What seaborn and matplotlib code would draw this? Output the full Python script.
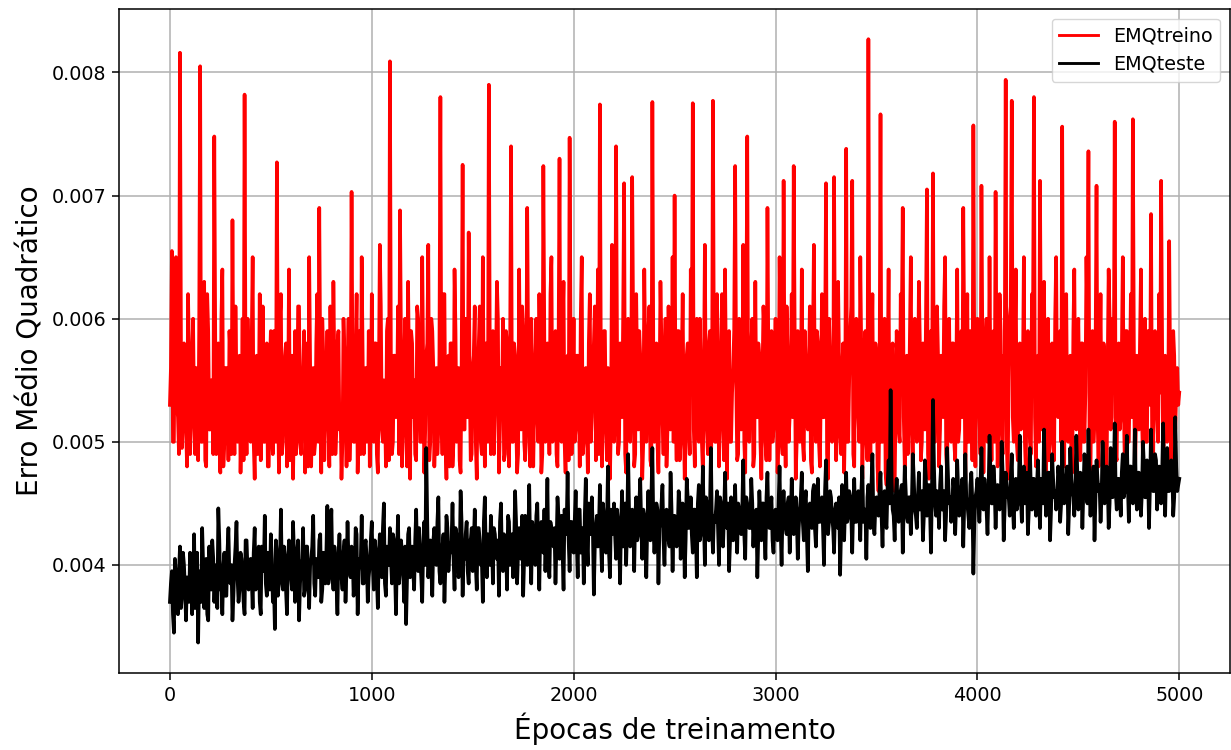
import numpy as np
import pandas as pd
import matplotlib
matplotlib.use("Agg")
import matplotlib.pyplot as plt
import seaborn as sns

# values in units of 1e-3, read at epochs 0, 10, 20, ... 5000
emq_treino = [
    5.3, 6.55, 5.0, 6.5, 5.2, 8.16, 4.95, 5.8, 5.1, 6.2,
    4.9, 5.7, 5.2, 5.6, 4.85, 8.05, 5.0, 6.3, 4.8, 5.9,
    5.1, 5.5, 7.48, 4.9, 5.8, 4.75, 6.4, 5.0, 5.6, 4.85,
    5.7, 6.8, 4.9, 5.5, 5.2, 4.75, 6.0, 7.82, 4.9, 5.6,
    5.0, 6.5, 4.7, 5.7, 5.3, 4.85, 6.1, 5.0, 5.8, 4.8,
    5.9, 4.9, 5.4, 7.27, 4.75, 6.2, 5.0, 5.7, 4.8, 6.4,
    5.5, 4.7, 5.9, 5.1, 6.1, 4.9, 5.6, 4.75, 5.8, 6.5,
    4.8, 5.6, 5.0, 6.2, 6.9, 4.75, 5.7, 5.2, 5.9, 4.8,
    5.5, 6.3, 4.9, 5.8, 5.1, 4.7, 6.0, 5.3, 5.6, 4.85,
    7.03, 5.0, 5.7, 4.75, 5.9, 6.5, 4.9, 5.6, 5.1, 4.8,
    6.2, 5.0, 5.8, 4.75, 6.6, 5.1, 5.5, 4.8, 6.0, 8.09,
    4.9, 5.7, 5.2, 6.1, 6.88, 4.8, 5.6, 5.1, 6.3, 4.7,
    5.8, 5.5, 4.85, 6.0, 5.0, 6.5, 4.75, 5.7, 6.6, 5.0,
    5.9, 4.8, 5.6, 5.1, 7.80, 4.9, 6.2, 4.7, 5.7, 5.8,
    4.8, 6.4, 5.0, 5.6, 4.75, 7.25, 5.1, 5.9, 6.7, 4.85,
    5.6, 6.1, 4.7, 5.8, 5.0, 6.5, 4.8, 5.7, 7.90, 4.9,
    5.9, 5.2, 6.3, 4.75, 5.6, 6.0, 4.9, 5.8, 4.8, 7.40,
    5.0, 5.7, 4.75, 6.4, 5.1, 5.9, 4.85, 6.90, 5.0, 6.0,
    4.8, 5.6, 5.2, 6.2, 4.75, 7.24, 5.0, 5.8, 4.9, 6.5,
    5.1, 5.9, 4.8, 7.3, 5.0, 6.3, 4.75, 5.7, 7.47, 4.9,
    6.0, 5.1, 5.7, 4.8, 6.5, 5.0, 5.6, 4.75, 6.2, 5.2,
    5.8, 4.85, 6.4, 7.74, 4.8, 5.9, 5.1, 5.6, 4.7, 6.6,
    5.0, 7.40, 4.9, 5.8, 5.2, 7.1, 4.75, 6.0, 5.0, 7.15,
    4.8, 6.2, 5.1, 5.7, 4.7, 6.4, 5.0, 5.9, 4.85, 7.76,
    5.0, 5.8, 4.75, 6.3, 5.2, 5.6, 4.8, 6.1, 5.1, 6.5,
    7.0, 4.85, 5.9, 5.0, 6.2, 4.7, 5.7, 5.2, 6.4, 7.75,
    4.8, 6.0, 5.0, 5.6, 4.75, 6.6, 5.1, 5.8, 4.85, 7.77,
    5.0, 6.2, 4.8, 5.7, 5.2, 6.4, 4.7, 5.9, 5.0, 5.6,
    7.24, 4.85, 6.0, 5.1, 6.6, 4.75, 7.48, 5.0, 5.8, 4.8,
    6.3, 5.2, 5.7, 4.7, 6.1, 5.0, 6.9, 4.85, 5.9, 5.1,
    6.0, 4.75, 6.5, 5.0, 7.12, 4.8, 5.7, 5.2, 6.2, 7.24,
    4.7, 5.9, 5.0, 6.4, 4.85, 5.6, 5.1, 6.1, 4.75, 6.6,
    5.0, 5.8, 4.8, 6.2, 5.2, 7.1, 4.7, 5.7, 5.0, 7.15,
    4.85, 6.3, 5.1, 5.6, 4.75, 7.38, 5.0, 5.9, 7.12, 4.8,
    6.0, 5.2, 6.5, 4.7, 5.8, 5.0, 8.27, 4.85, 6.2, 5.1,
    5.7, 4.6, 7.66, 5.0, 6.0, 4.65, 6.4, 4.8, 5.8, 4.6,
    5.9, 5.1, 6.2, 6.9, 4.8, 5.7, 5.2, 6.5, 4.75, 6.0,
    5.0, 6.3, 4.85, 5.8, 5.1, 7.05, 4.7, 5.9, 7.18, 5.0,
    6.1, 4.8, 5.7, 5.2, 6.5, 4.75, 6.0, 5.0, 5.8, 4.85,
    6.4, 5.1, 5.9, 6.9, 4.7, 6.2, 5.0, 5.7, 7.57, 4.8,
    6.0, 5.2, 7.08, 4.75, 5.8, 5.0, 6.5, 4.85, 5.9, 7.03,
    4.8, 6.2, 5.1, 5.7, 7.94, 4.7, 6.0, 7.77, 5.0, 6.4,
    4.85, 5.8, 5.2, 6.5, 4.75, 5.9, 5.0, 6.2, 7.80, 4.8,
    5.7, 7.12, 5.1, 6.3, 4.7, 6.0, 5.0, 5.8, 4.85, 6.5,
    5.2, 5.9, 7.56, 4.8, 6.2, 5.0, 5.7, 4.75, 6.4, 5.1,
    6.0, 4.85, 5.8, 5.0, 6.5, 7.36, 4.7, 5.9, 5.2, 7.08,
    4.8, 6.2, 5.0, 5.7, 4.75, 6.4, 5.1, 6.0, 7.60, 4.85,
    5.8, 5.2, 6.5, 4.8, 5.9, 5.0, 6.2, 7.62, 4.7, 5.7,
    5.1, 6.4, 4.85, 6.0, 5.0, 5.8, 6.85, 4.75, 5.9, 5.2,
    6.2, 7.12, 4.8, 5.7, 5.0, 6.63, 4.7, 5.9, 5.1, 5.6,
    5.4,
]

# values in units of 1e-3, read at epochs 5, 15, 25, ... 4995
emq_treino_meio = [
    5.6, 5.0, 6.1, 5.3, 4.9, 5.8, 5.2, 5.5, 4.8, 5.7,
    5.2, 6.0, 4.9, 5.4, 5.9, 5.0, 5.6, 4.85, 6.2, 5.1,
    5.5, 4.9, 5.8, 5.2, 5.0, 6.0, 4.8, 5.6, 5.3, 5.9,
    4.9, 5.4, 6.1, 5.0, 5.7, 5.2, 4.85, 5.5, 6.0, 5.1,
    5.8, 5.0, 5.4, 4.9, 6.2, 5.3, 5.0, 5.7, 4.8, 5.6,
    5.1, 5.9, 5.0, 5.5, 6.0, 4.9, 5.3, 5.8, 5.2, 4.85,
    5.7, 5.2, 4.9, 6.1, 5.0, 5.5, 5.9, 5.1, 4.8, 5.6,
    5.3, 4.9, 5.8, 5.0, 5.6, 6.0, 4.85, 5.4, 5.2, 6.1,
    4.9, 5.6, 5.1, 5.9, 5.3, 5.0, 5.7, 4.8, 6.0, 5.2,
    5.5, 5.0, 6.2, 5.2, 4.9, 5.7, 5.4, 5.0, 5.9, 5.1,
    5.4, 5.8, 4.9, 5.5, 6.1, 5.0, 5.3, 5.9, 4.85, 5.6,
    5.0, 5.7, 5.3, 4.9, 5.8, 5.2, 6.0, 4.8, 5.5, 5.9,
    5.2, 4.9, 6.1, 5.4, 5.0, 5.6, 5.1, 5.8, 4.85, 6.0,
    5.6, 5.1, 4.9, 5.7, 5.3, 6.2, 5.0, 5.5, 4.8, 5.8,
    5.0, 5.9, 5.3, 4.85, 5.6, 5.1, 6.0, 5.2, 5.5, 4.9,
    5.7, 5.0, 5.5, 6.1, 4.9, 5.4, 5.8, 5.0, 5.6, 5.2,
    4.9, 5.6, 6.0, 5.1, 5.3, 4.85, 5.9, 5.2, 5.7, 5.0,
    5.8, 5.2, 4.9, 5.5, 6.1, 5.0, 5.4, 5.7, 4.8, 5.6,
    5.3, 6.0, 5.0, 5.6, 4.9, 5.8, 5.2, 5.4, 6.2, 5.0,
    5.5, 4.9, 5.7, 5.1, 5.9, 5.0, 5.6, 4.85, 5.8, 5.3,
    5.0, 5.7, 5.4, 6.0, 4.9, 5.5, 5.2, 5.8, 5.0, 5.6,
    6.1, 5.1, 4.9, 5.6, 5.3, 5.9, 4.85, 5.5, 5.2, 5.7,
    5.2, 5.8, 5.0, 5.4, 6.0, 4.9, 5.7, 5.1, 5.5, 5.9,
    4.9, 5.5, 5.9, 5.2, 5.0, 5.7, 5.3, 6.1, 4.8, 5.6,
    5.6, 5.0, 5.4, 5.8, 4.9, 6.0, 5.1, 5.5, 5.3, 5.0,
    5.3, 5.9, 4.85, 5.6, 5.2, 5.0, 5.8, 4.9, 5.7, 5.1,
    5.7, 5.1, 6.0, 5.0, 5.5, 5.3, 4.9, 5.9, 5.2, 5.6,
    5.0, 5.6, 5.2, 6.2, 4.85, 5.5, 5.8, 5.0, 5.4, 5.9,
    5.5, 4.9, 5.7, 5.3, 5.0, 5.9, 5.1, 5.6, 6.0, 4.9,
    5.2, 5.8, 5.0, 5.5, 5.9, 4.85, 5.6, 5.3, 5.0, 5.7,
    5.6, 5.1, 5.8, 4.9, 5.4, 6.1, 5.0, 5.5, 5.2, 5.9,
    5.0, 5.7, 5.3, 5.0, 5.9, 5.2, 5.6, 4.85, 5.8, 5.4,
    5.9, 5.0, 5.5, 5.2, 5.7, 4.9, 6.0, 5.3, 5.1, 5.6,
    5.1, 5.6, 4.9, 5.8, 5.3, 5.0, 5.5, 6.1, 4.9, 5.7,
    5.5, 5.0, 5.7, 5.2, 5.9, 4.85, 5.4, 5.6, 5.0, 5.8,
    4.8, 5.4, 5.0, 5.6, 4.75, 5.5, 4.9, 5.7, 4.8, 5.3,
    5.6, 5.0, 5.9, 5.2, 5.5, 4.9, 5.8, 5.1, 5.6, 5.3,
    5.2, 5.8, 5.0, 5.5, 6.0, 4.9, 5.6, 5.3, 5.0, 5.7,
    5.7, 5.1, 5.4, 6.1, 4.9, 5.6, 5.2, 5.8, 5.0, 5.5,
    5.0, 5.6, 5.2, 5.8, 5.3, 5.0, 5.9, 4.85, 5.5, 5.7,
    5.5, 4.9, 5.7, 5.3, 6.0, 5.1, 5.4, 5.8, 5.0, 5.6,
    5.2, 5.9, 4.9, 5.6, 5.0, 5.5, 6.1, 5.2, 5.7, 5.0,
    5.7, 5.1, 5.5, 5.0, 5.8, 5.3, 4.9, 5.9, 5.2, 5.6,
    5.0, 5.6, 5.9, 5.2, 5.4, 4.85, 5.7, 5.1, 6.0, 5.3,
    5.6, 5.0, 5.3, 5.8, 5.1, 5.5, 4.9, 5.9, 5.2, 5.7,
    5.3, 5.8, 5.0, 5.4, 5.9, 5.1, 5.6, 5.0, 5.7, 5.2,
    5.5, 5.1, 5.8, 5.0, 5.6, 6.0, 5.2, 5.4, 4.9, 5.7,
    5.1, 5.7, 5.3, 5.9, 5.0, 5.5, 5.2, 5.8, 5.1, 5.6,
    5.8, 5.2, 5.5, 5.0, 5.9, 5.3, 5.1, 5.6, 5.4, 5.0,
    5.4, 5.8, 5.1, 5.6, 5.3, 5.5, 5.2, 5.7, 5.4, 5.3,
]

# values in units of 1e-3, read at epochs 0, 10, 20, ... 5000
emq_teste = [
    3.7, 3.95, 3.45, 3.9, 3.6, 4.15, 3.75, 4.0, 3.55, 3.85,
    4.1, 3.6, 4.25, 3.7, 3.37, 3.95, 4.3, 3.65, 4.05, 3.55,
    3.9, 4.2, 3.7, 4.0, 4.46, 3.8, 3.6, 4.1, 3.75, 4.3,
    3.85, 3.55, 4.0, 4.35, 3.7, 4.1, 3.9, 3.6, 4.2, 3.8,
    4.05, 3.65, 4.3, 3.9, 4.15, 3.6, 4.0, 4.4, 3.75, 3.95,
    4.25, 3.7, 3.48, 4.1, 3.85, 4.45, 3.8, 4.05, 3.6, 4.2,
    3.9, 4.35, 3.7, 4.1, 3.55, 4.0, 4.3, 3.8, 4.15, 3.65,
    4.05, 4.4, 3.75, 3.95, 4.2, 3.7, 4.1, 3.85, 4.48, 3.9,
    4.45, 3.8, 4.0, 3.6, 4.25, 3.9, 4.1, 3.7, 4.35, 3.95,
    4.15, 3.75, 4.3, 3.6, 4.05, 4.4, 3.85, 4.2, 3.7, 4.0,
    4.35, 3.8, 4.1, 3.65, 4.25, 3.9, 4.5, 3.75, 4.05, 4.3,
    3.85, 4.2, 3.6, 4.4, 3.95, 4.1, 3.7, 3.52, 4.25, 3.9,
    4.15, 3.8, 4.45, 3.95, 4.05, 3.7, 4.35, 4.95, 3.9, 4.2,
    3.75, 4.3, 4.0, 4.55, 3.85, 4.15, 3.7, 4.4, 3.95, 4.1,
    4.5, 3.8, 4.25, 3.9, 4.6, 3.75, 4.05, 4.35, 3.85, 4.2,
    3.95, 4.45, 3.8, 4.3, 4.0, 3.7, 4.55, 3.9, 4.15, 4.4,
    3.85, 4.25, 4.05, 3.75, 4.5, 3.95, 4.2, 3.8, 4.35, 4.1,
    3.9, 4.6, 3.85, 4.3, 4.05, 3.75, 4.4, 4.0, 4.65, 3.85,
    4.25, 4.0, 4.5, 3.8, 4.35, 4.1, 3.95, 4.7, 3.9, 4.3,
    4.15, 3.85, 4.55, 4.05, 4.4, 3.8, 4.25, 4.75, 3.95, 4.35,
    4.1, 4.6, 3.9, 4.45, 4.2, 3.85, 4.7, 4.0, 4.35, 4.55,
    3.76, 4.3, 4.15, 4.65, 3.95, 4.4, 4.1, 4.8, 3.9, 4.25,
    4.5, 4.05, 4.35, 3.85, 4.6, 4.2, 4.0, 4.9, 4.15, 4.45,
    3.95, 4.55, 4.25, 4.7, 4.05, 4.4, 3.9, 4.6, 4.2, 4.95,
    4.1, 4.5, 3.85, 4.35, 4.65, 4.0, 4.45, 4.2, 4.75, 3.95,
    4.4, 4.15, 4.6, 4.05, 4.5, 3.9, 4.7, 4.3, 4.55, 4.1,
    4.45, 3.9, 4.65, 4.25, 4.8, 4.0, 4.5, 4.2, 4.95, 4.1,
    4.35, 4.6, 4.0, 4.5, 4.15, 4.75, 4.3, 3.95, 4.55, 4.2,
    4.65, 4.1, 4.45, 4.25, 4.85, 4.05, 4.5, 4.3, 4.7, 4.15,
    4.4, 3.9, 4.6, 4.2, 4.5, 4.05, 4.75, 4.3, 4.55, 4.1,
    4.45, 4.2, 4.8, 4.0, 4.6, 4.3, 4.5, 4.1, 4.7, 4.25,
    4.55, 4.05, 4.45, 4.75, 4.2, 4.6, 3.95, 4.5, 4.3, 4.65,
    4.15, 4.7, 4.35, 4.55, 4.0, 4.85, 4.25, 4.6, 4.4, 4.1,
    4.5, 4.3, 3.92, 4.65, 4.2, 4.75, 4.4, 4.55, 4.1, 4.7,
    4.35, 4.6, 4.2, 4.8, 4.45, 4.05, 4.65, 4.3, 4.9, 4.25,
    4.55, 4.4, 4.75, 4.15, 4.6, 4.3, 4.85, 5.42, 4.45, 4.2,
    4.7, 4.35, 4.6, 4.1, 4.8, 4.4, 4.55, 4.25, 4.9, 4.45,
    4.3, 4.75, 4.5, 4.2, 4.85, 4.4, 4.65, 4.1, 5.34, 4.5,
    4.6, 4.3, 4.8, 4.45, 4.2, 4.95, 4.5, 4.35, 4.7, 4.25,
    4.85, 4.4, 4.6, 4.15, 4.9, 4.5, 4.3, 4.75, 3.93, 4.55,
    4.7, 4.35, 4.95, 4.45, 4.6, 4.25, 5.05, 4.5, 4.8, 4.3,
    4.65, 4.45, 5.0, 4.2, 4.75, 4.55, 4.4, 4.9, 4.3, 4.7,
    4.5, 5.05, 4.35, 4.8, 4.6, 4.25, 4.95, 4.45, 4.7, 4.4,
    4.85, 4.3, 4.65, 5.1, 4.4, 4.75, 4.2, 4.9, 4.55, 4.45,
    4.8, 4.35, 5.0, 4.5, 4.7, 4.25, 4.95, 4.6, 4.4, 5.05,
    4.45, 4.75, 4.3, 4.9, 4.55, 5.1, 4.4, 4.7, 4.2, 4.85,
    4.6, 4.35, 5.0, 4.5, 4.8, 4.3, 4.95, 4.55, 5.15, 4.45,
    4.7, 4.4, 4.9, 4.6, 5.05, 4.35, 4.8, 4.5, 5.1, 4.45,
    4.75, 4.4, 5.0, 4.55, 4.85, 4.3, 5.1, 4.6, 4.9, 4.45,
    4.8, 4.5, 5.15, 4.4, 4.95, 4.6, 4.85, 4.4, 5.2, 4.6,
    4.7,
]

# values in units of 1e-3, read at epochs 5, 15, 25, ... 4995
emq_teste_meio = [
    3.85, 3.6, 4.05, 3.75, 3.95, 3.65, 4.1, 3.8, 3.9, 3.7,
    3.95, 3.8, 3.65, 4.1, 3.9, 3.7, 4.0, 3.85, 3.6, 4.15,
    3.8, 4.05, 3.9, 3.65, 4.2, 3.85, 4.0, 3.75, 4.1, 3.9,
    4.0, 3.75, 4.15, 3.9, 3.8, 4.05, 3.7, 4.2, 3.95, 3.85,
    3.9, 4.1, 3.8, 4.0, 3.7, 4.15, 3.95, 3.85, 4.1, 3.8,
    4.05, 3.85, 4.2, 3.75, 4.0, 3.9, 4.15, 3.8, 4.05, 3.95,
    3.8, 4.1, 3.95, 4.2, 3.85, 4.05, 3.75, 4.15, 3.9, 4.0,
    4.15, 3.85, 4.05, 3.9, 4.25, 3.8, 4.0, 4.1, 3.85, 4.2,
    3.95, 4.15, 3.85, 4.1, 4.0, 3.8, 4.2, 3.95, 4.05, 3.9,
    4.1, 3.9, 4.25, 3.95, 4.0, 3.85, 4.15, 4.05, 3.9, 4.2,
    4.0, 4.2, 3.9, 4.1, 3.95, 4.3, 3.85, 4.15, 4.0, 4.05,
    4.25, 3.95, 4.1, 3.85, 4.2, 4.0, 4.15, 3.9, 4.3, 4.05,
    3.95, 4.2, 4.05, 4.3, 3.9, 4.15, 4.0, 4.35, 4.1, 3.95,
    4.2, 4.05, 4.35, 3.95, 4.15, 4.25, 4.0, 4.3, 4.1, 4.2,
    4.05, 4.3, 4.15, 4.0, 4.35, 4.1, 4.25, 3.95, 4.2, 4.3,
    4.15, 4.0, 4.3, 4.2, 4.05, 4.35, 4.1, 4.25, 4.0, 4.2,
    4.3, 4.1, 4.2, 4.35, 4.05, 4.25, 4.15, 4.4, 4.0, 4.25,
    4.15, 4.35, 4.1, 4.2, 4.4, 4.05, 4.3, 4.2, 4.1, 4.35,
    4.2, 4.4, 4.1, 4.3, 4.15, 4.45, 4.25, 4.05, 4.35, 4.2,
    4.3, 4.15, 4.4, 4.25, 4.1, 4.45, 4.3, 4.2, 4.35, 4.15,
    4.35, 4.2, 4.45, 4.1, 4.3, 4.4, 4.2, 4.5, 4.25, 4.3,
    4.15, 4.4, 4.3, 4.2, 4.5, 4.25, 4.35, 4.1, 4.45, 4.3,
    4.25, 4.45, 4.2, 4.35, 4.15, 4.5, 4.3, 4.4, 4.2, 4.35,
    4.4, 4.2, 4.5, 4.3, 4.45, 4.15, 4.35, 4.25, 4.55, 4.3,
    4.25, 4.45, 4.3, 4.5, 4.2, 4.4, 4.35, 4.15, 4.45, 4.3,
    4.35, 4.25, 4.5, 4.3, 4.4, 4.2, 4.55, 4.35, 4.25, 4.45,
    4.3, 4.5, 4.2, 4.4, 4.35, 4.55, 4.25, 4.45, 4.3, 4.4,
    4.45, 4.3, 4.55, 4.25, 4.4, 4.35, 4.5, 4.2, 4.45, 4.35,
    4.3, 4.5, 4.35, 4.45, 4.25, 4.55, 4.4, 4.3, 4.5, 4.35,
    4.45, 4.25, 4.4, 4.5, 4.3, 4.55, 4.35, 4.45, 4.2, 4.4,
    4.35, 4.5, 4.3, 4.45, 4.4, 4.25, 4.55, 4.35, 4.45, 4.3,
    4.4, 4.3, 4.55, 4.35, 4.5, 4.25, 4.45, 4.4, 4.6, 4.3,
    4.45, 4.35, 4.5, 4.3, 4.6, 4.4, 4.35, 4.55, 4.3, 4.45,
    4.4, 4.55, 4.3, 4.45, 4.5, 4.35, 4.6, 4.4, 4.5, 4.35,
    4.5, 4.4, 4.6, 4.35, 4.45, 4.55, 4.4, 4.65, 4.35, 4.5,
    4.45, 4.6, 4.4, 4.55, 4.35, 4.65, 4.5, 4.7, 4.4, 4.55,
    4.5, 4.4, 4.65, 4.45, 4.6, 4.35, 4.55, 4.5, 4.7, 4.4,
    4.55, 4.45, 4.6, 4.4, 4.7, 4.5, 4.45, 4.65, 4.8, 4.4,
    4.5, 4.65, 4.45, 4.6, 4.4, 4.7, 4.55, 4.45, 4.6, 4.5,
    4.6, 4.45, 4.7, 4.5, 4.55, 4.4, 4.65, 4.5, 4.35, 4.6,
    4.5, 4.65, 4.55, 4.7, 4.45, 4.6, 4.75, 4.5, 4.65, 4.55,
    4.6, 4.5, 4.75, 4.45, 4.65, 4.55, 4.7, 4.5, 4.6, 4.45,
    4.65, 4.55, 4.7, 4.5, 4.75, 4.45, 4.6, 4.7, 4.55, 4.65,
    4.55, 4.7, 4.5, 4.65, 4.6, 4.75, 4.45, 4.7, 4.6, 4.55,
    4.7, 4.5, 4.65, 4.6, 4.8, 4.5, 4.7, 4.55, 4.65, 4.75,
    4.55, 4.7, 4.6, 4.75, 4.5, 4.65, 4.6, 4.8, 4.55, 4.7,
    4.65, 4.55, 4.75, 4.6, 4.7, 4.5, 4.8, 4.65, 4.6, 4.7,
    4.6, 4.75, 4.55, 4.7, 4.65, 4.8, 4.55, 4.7, 4.6, 4.75,
    4.7, 4.6, 4.8, 4.55, 4.75, 4.65, 4.7, 4.6, 4.85, 4.65,
    4.6, 4.75, 4.65, 4.8, 4.6, 4.7, 4.75, 4.55, 4.8, 4.65,
]

df = pd.concat([
    pd.DataFrame({"epoca": np.arange(len(emq_treino)) * 10,
                  "EMQtreino": emq_treino, "EMQteste": emq_teste}),
    pd.DataFrame({"epoca": np.arange(len(emq_treino_meio)) * 10 + 5,
                  "EMQtreino": emq_treino_meio, "EMQteste": emq_teste_meio}),
]).sort_values("epoca").reset_index(drop=True)
df[["EMQtreino", "EMQteste"]] *= 1e-3

plt.rcParams["axes.linewidth"] = 1.1
plt.rcParams["path.simplify"] = False

fig, ax = plt.subplots(figsize=(12.31, 7.5), dpi=100)
fig.subplots_adjust(left=0.097, right=0.999, top=0.988, bottom=0.103)

# thicker strokes so the 1000 read points fill the band like the dense original
sns.lineplot(data=df, x="epoca", y="EMQtreino", color="red", linewidth=2.6,
             label="EMQtreino", ax=ax)
sns.lineplot(data=df, x="epoca", y="EMQteste", color="black", linewidth=2.6,
             label="EMQteste", ax=ax)

ax.set_xticks([0, 1000, 2000, 3000, 4000, 5000])
ax.set_yticks([0.004, 0.005, 0.006, 0.007, 0.008])
ax.tick_params(labelsize=13.8, length=4.8, width=1.1, pad=4.8)
ax.grid(True, color="#b0b0b0", linewidth=1.1)
ax.set_xlabel("Épocas de treinamento", fontsize=20, labelpad=5)
ax.set_ylabel("Erro Médio Quadrático", fontsize=20, labelpad=5)
leg = ax.legend(loc="upper right", fontsize=13.8)
for line in leg.get_lines():
    line.set_linewidth(2.07)

fig.savefig("out.png", dpi=100)
plt.close(fig)
